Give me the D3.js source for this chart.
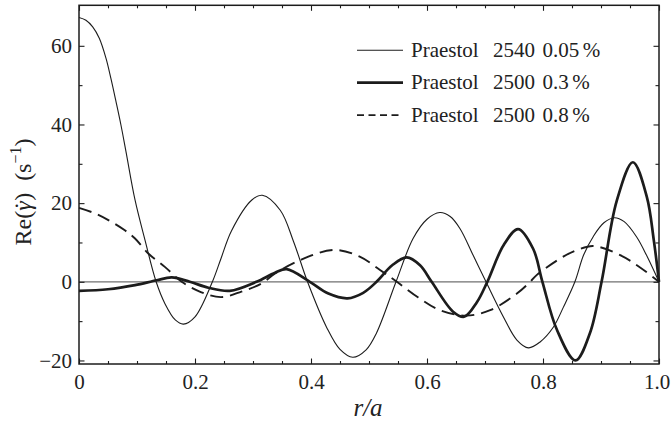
<!DOCTYPE html>
<html>
<head>
<meta charset="utf-8">
<script src="https://cdn.jsdelivr.net/npm/d3@7"></script>
<style>
  html, body { margin: 0; padding: 0; background: #fff; }
  svg { display: block; }
  text { font-family: "Liberation Serif", "Times New Roman", serif; fill: #222; }
</style>
</head>
<body>
<svg id="chart" width="671" height="425"></svg>
<script>
// Radial position r/a and Re(shear rate) for each solution
const thinR = [0, 0.012, 0.0236, 0.035, 0.0466, 0.055, 0.0638, 0.0724, 0.081, 0.0966, 0.1138, 0.133,
  0.148, 0.166, 0.180, 0.200, 0.230, 0.245, 0.263, 0.298, 0.316, 0.347, 0.370, 0.394, 0.427, 0.45,
  0.472, 0.495, 0.513, 0.5466, 0.576, 0.60, 0.622, 0.64, 0.657, 0.680, 0.7017, 0.732, 0.755, 0.775,
  0.795, 0.818, 0.835, 0.855, 0.87, 0.887, 0.905, 0.923, 0.94, 0.9615, 0.98, 1.0];
const thinV = [67.2, 66.5, 64.8, 61.9, 56.8, 51.7, 45.8, 39.8, 33.1, 20.8, 10.6, 0,
  -5.5, -9.7, -10.75, -8.9, 0, 6.0, 13.0, 20.8, 22.0, 18.2, 10.2, 0, -11.6, -17.2,
  -19.2, -17.3, -13.0, 0, 11.0, 15.9, 17.6, 16.6, 13.5, 6.6, 0, -9.0, -14.8, -16.8,
  -15.3, -11.5, -6.5, 0, 6.8, 11.6, 15.0, 16.3, 15.3, 11.4, 6.3, 0];

const thickR = [0, 0.05, 0.0966, 0.134, 0.160, 0.191, 0.223, 0.260, 0.306, 0.338, 0.358, 0.398,
  0.430, 0.463, 0.490, 0.513, 0.540, 0.565, 0.588, 0.608, 0.645, 0.664, 0.686, 0.704, 0.732,
  0.757, 0.783, 0.799, 0.824, 0.856, 0.881, 0.901, 0.927, 0.955, 0.979, 0.991, 1.0];
const thickV = [-2.3, -1.9, -0.85, 0.4, 1.1, 0, -1.5, -2.3, 0, 2.3, 3.2, 0,
  -3.0, -4.2, -2.8, 0, 4.2, 6.2, 4.2, 0, -7.6, -8.9, -5.2, 0, 9.3,
  13.4, 8.4, 0, -12.2, -20.0, -13.0, 0, 20.5, 30.4, 21.6, 10.6, 0];

const dashR = [0, 0.0276, 0.0506, 0.079, 0.0966, 0.1195, 0.148, 0.177, 0.210, 0.245, 0.280, 0.315,
  0.338, 0.381, 0.440, 0.484, 0.519, 0.548, 0.585, 0.622, 0.668, 0.709, 0.755, 0.778, 0.789,
  0.835, 0.861, 0.887, 0.933, 0.965, 1.0];
const dashV = [18.8, 17.4, 15.7, 13.1, 11.0, 7.2, 3.8, 0, -2.6, -3.9, -2.5, -0.4,
  2.1, 5.5, 8.1, 6.4, 3.0, 0, -4.0, -7.2, -8.6, -7.2, -3.0, 0, 1.7,
  6.4, 8.2, 9.1, 6.8, 3.9, 0];

// Legend entries and tick values
const seriesLabels = [
  ["Praestol", "2540", "0.05"],
  ["Praestol", "2500", "0.3"],
  ["Praestol", "2500", "0.8"]
];
const xMajorTicks = [0, 0.2, 0.4, 0.6, 0.8, 1.0];
const xMinorTicks = [0.05, 0.1, 0.15, 0.25, 0.3, 0.35, 0.45, 0.5, 0.55, 0.65, 0.7, 0.75, 0.85, 0.9, 0.95];
const yMajorTicks = [-20, 0, 20, 40, 60];
const yMinorTicks = [-10, 10, 30, 50];

const svg = d3.select("#chart");
const plotL = 79, plotR = 659, plotT = 5.3, plotB = 364;

const x = d3.scaleLinear().domain([0, 1]).range([plotL, plotR]);
const y = d3.scaleLinear().domain([-20.9, 70.3]).range([plotB, plotT]);

const ink = "#1c1c1c";
const serif = "'Liberation Serif', 'Times New Roman', serif";

// zero reference line
svg.append("line")
  .attr("x1", x(0)).attr("x2", x(1))
  .attr("y1", y(0)).attr("y2", y(0))
  .attr("stroke", "#707070").attr("stroke-width", 1.3);

const line = d3.line().curve(d3.curveCatmullRom.alpha(0.5));
const toPts = (rs, vs) => rs.map((r, i) => [x(r), y(vs[i])]);

const series = [
  { pts: toPts(thinR, thinV), w: 1.1, dash: null },
  { pts: toPts(thickR, thickV), w: 2.7, dash: null },
  { pts: toPts(dashR, dashV), w: 1.9, dash: "13,7" }
];

svg.append("g").selectAll("path").data(series).join("path")
  .attr("d", d => line(d.pts))
  .attr("fill", "none")
  .attr("stroke", ink)
  .attr("stroke-width", d => d.w)
  .attr("stroke-dasharray", d => d.dash)
  .attr("stroke-linejoin", "round");

// axes: ticks point inward on all four sides
function styleAxis(g) {
  g.attr("font-family", serif);
  g.select(".domain").remove();
  g.selectAll(".tick line").attr("stroke", ink).attr("stroke-width", 1.1);
  g.selectAll(".tick text").style("font-family", serif)
    .style("font-size", "21px").attr("fill", "#222");
}

const xAxisG = svg.append("g").attr("transform", `translate(0,${plotB})`)
  .call(d3.axisBottom(x).tickValues(xMajorTicks).tickSize(-5.5).tickPadding(10)
    .tickFormat(d => d === 0 ? "0" : d3.format(".1f")(d)))
  .call(styleAxis);
// keep the last label inside the page edge
xAxisG.selectAll(".tick text").filter(d => d === 1).attr("dx", -2.5);

svg.append("g").attr("transform", `translate(0,${plotB})`)
  .call(d3.axisBottom(x).tickValues(xMinorTicks).tickSize(-3).tickFormat(""))
  .call(styleAxis);
svg.append("g").attr("transform", `translate(0,${plotT})`)
  .call(d3.axisTop(x).tickValues(xMajorTicks).tickSize(-5.5).tickFormat(""))
  .call(styleAxis);
svg.append("g").attr("transform", `translate(0,${plotT})`)
  .call(d3.axisTop(x).tickValues(xMinorTicks).tickSize(-3).tickFormat(""))
  .call(styleAxis);

svg.append("g").attr("transform", `translate(${plotL},0)`)
  .call(d3.axisLeft(y).tickValues(yMajorTicks).tickSize(-5.5).tickPadding(7)
    .tickFormat(d3.format("d")))
  .call(styleAxis);
svg.append("g").attr("transform", `translate(${plotL},0)`)
  .call(d3.axisLeft(y).tickValues(yMinorTicks).tickSize(-3.5).tickFormat(""))
  .call(styleAxis);
svg.append("g").attr("transform", `translate(${plotR},0)`)
  .call(d3.axisRight(y).tickValues(yMajorTicks).tickSize(-5.5).tickFormat(""))
  .call(styleAxis);
svg.append("g").attr("transform", `translate(${plotR},0)`)
  .call(d3.axisRight(y).tickValues(yMinorTicks).tickSize(-3.5).tickFormat(""))
  .call(styleAxis);

// frame
svg.append("rect")
  .attr("x", plotL).attr("y", plotT)
  .attr("width", plotR - plotL).attr("height", plotB - plotT)
  .attr("fill", "none").attr("stroke", ink).attr("stroke-width", 1.5);

// axis titles
svg.append("text")
  .attr("x", 368).attr("y", 416)
  .attr("text-anchor", "middle")
  .style("font-size", "25px").style("font-style", "italic")
  .text("r/a");

const yt = svg.append("text")
  .attr("transform", "translate(31,192) rotate(-90)")
  .attr("text-anchor", "middle")
  .style("font-size", "24px");
yt.append("tspan").text("Re(");
yt.append("tspan").style("font-style", "italic").text("γ");
yt.append("tspan").attr("dx", -8.5).text("\u02D9");
yt.append("tspan").attr("dx", 1).text(")\u2002(s");
yt.append("tspan").attr("dy", -10).style("font-size", "16px").text("\u22121");
yt.append("tspan").attr("dy", 10).text(")");

// legend
const legendBase = [56.5, 89, 121.5];
const legendStyles = [
  { w: 1.1, dash: null },
  { w: 2.7, dash: null },
  { w: 1.8, dash: "7,4.5" }
];
const lg = svg.append("g");
legendBase.forEach((b, i) => {
  lg.append("line")
    .attr("x1", 357).attr("x2", 403)
    .attr("y1", b - 6.3).attr("y2", b - 6.3)
    .attr("stroke", ink)
    .attr("stroke-width", legendStyles[i].w)
    .attr("stroke-dasharray", legendStyles[i].dash);
  const t = lg.append("text").attr("y", b).style("font-size", "21px");
  t.append("tspan").attr("x", 411).text(seriesLabels[i][0]);
  t.append("tspan").attr("x", 493).text(seriesLabels[i][1]);
  t.append("tspan").attr("x", 542.5).text(seriesLabels[i][2]);
  t.append("tspan").attr("dx", 3.5).text("%");
});
</script>
</body>
</html>
